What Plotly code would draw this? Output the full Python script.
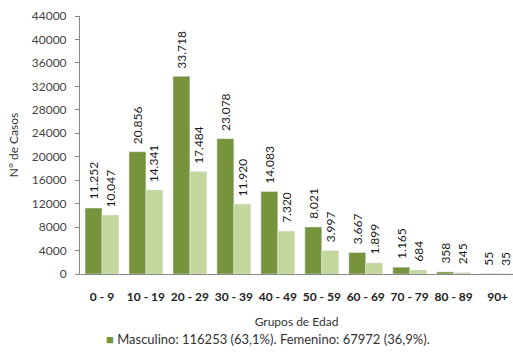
import plotly.graph_objects as go

grupos = ["0 - 9", "10 - 19", "20 - 29", "30 - 39", "40 - 49", "50 - 59", "60 - 69", "70 - 79", "80 - 89", "90+"]
masculino = [11252, 20856, 33718, 23078, 14083, 8021, 3667, 1165, 358, 55]
femenino = [10047, 14341, 17484, 11920, 7320, 3997, 1899, 684, 245, 35]
yticks = [0, 4000, 8000, 12000, 16000, 20000, 24000, 28000, 32000, 36000, 40000, 44000]
leyenda = "Masculino: 116253 (63,1%). Femenino: 67972 (36,9%)."

def fmt(v):
    return f"{v:,}".replace(",", ".")

FONT = "Lato, Open Sans, sans-serif"
DARK = "#77933C"
LIGHT = "#C3D69B"
XMAX = 9.35
BARGAP = 0.23

fig = go.Figure()
fig.add_trace(go.Bar(x=grupos, y=masculino, name="Masculino", showlegend=False, marker_color=DARK))
fig.add_trace(go.Bar(x=grupos, y=femenino, name="Femenino", showlegend=False, marker_color=LIGHT))

# half-bar offset in pixels for labels
plot_w = 513 - 80
cat_px = plot_w / (XMAX + 0.5)
half = cat_px * (1 - BARGAP) / 4

annotations = []
for serie, shift in ((masculino, -half), (femenino, half)):
    for g, v in zip(grupos, serie):
        annotations.append(dict(
            x=g, y=v, xref="x", yref="y", text=fmt(v), showarrow=False,
            textangle=-90, xanchor="center", yanchor="bottom", xshift=shift, yshift=6,
            font=dict(size=12, color="#1a1a1a", family=FONT),
        ))
annotations.append(dict(
    xref="paper", yref="paper", x=0.434, y=-0.252, xanchor="center", yanchor="middle",
    showarrow=False,
    text=f"<span style='color:{DARK}'>■</span> {leyenda}",
    font=dict(size=13, color="#333333", family=FONT),
))

fig.update_layout(
    width=513, height=360,
    margin=dict(l=80, r=0, t=16, b=86),
    paper_bgcolor="white", plot_bgcolor="white",
    barmode="group", bargap=BARGAP, bargroupgap=0,
    font=dict(family=FONT, size=12, color="#333333"),
    xaxis=dict(
        range=[-0.5, XMAX], showline=True, linecolor="#888888", linewidth=1,
        tickfont=dict(size=12, color="#222222", family="Lato, sans-serif", weight="bold"),
        ticklabelstandoff=12,
        title=dict(text="Grupos de Edad", font=dict(size=12, color="#333333"), standoff=14),
        ticks="", showgrid=False,
    ),
    yaxis=dict(
        range=[0, 44000], tickvals=yticks, tickformat="d", showline=True, linecolor="#888888",
        ticks="outside", ticklen=4, tickcolor="#888888", showgrid=False, zeroline=False,
        tickfont=dict(size=12, color="#444444"), ticklabelstandoff=6,
        title=dict(text="N° de Casos", font=dict(size=12, color="#333333"), standoff=10),
    ),
    showlegend=False,
    annotations=annotations,
)

fig.write_html("out.html")
